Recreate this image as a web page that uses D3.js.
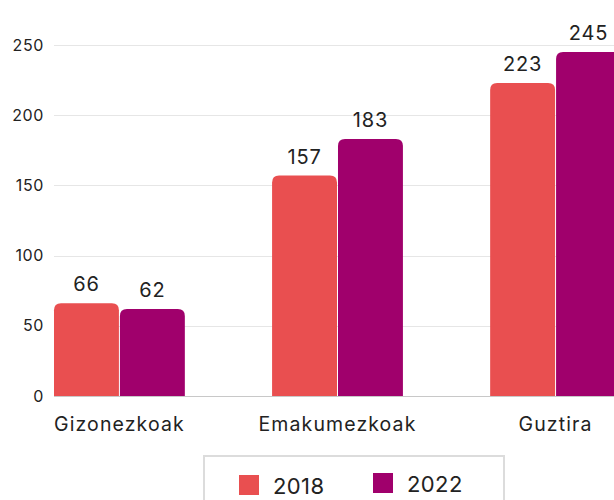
<!doctype html>
<html>
<head>
  <meta charset="utf-8">
  <title>Gizonezkoak / Emakumezkoak</title>
  <style>
    html, body { margin: 0; padding: 0; background: #fff; overflow: hidden; }
    svg { display: block; font-family: Inter, "Open Sans", sans-serif; }
  </style>
</head>
<body>
  <svg id="chart" width="614" height="500"></svg>

  <script src="https://d3js.org/d3.v7.min.js"></script>
  <script>
    // data
    var categories = ["Gizonezkoak", "Emakumezkoak", "Guztira"];
    var series = ["2018", "2022"];
    var values2018 = [66, 157, 223];
    var values2022 = [62, 183, 245];
    var yTicks = [0, 50, 100, 150, 200, 250];
    var colors = ["#e94f50", "#a0006c"];

    var rows = categories.map(function (c, i) {
      return { cat: c, vals: [values2018[i], values2022[i]] };
    });

    var svg = d3.select("#chart");

    var y = d3.scaleLinear().domain([0, 250]).range([396, 45]);
    var x0 = d3.scaleBand().domain(categories).range([54, 621])
        .paddingInner(0.4).paddingOuter(0);
    var x1 = d3.scaleBand().domain(series).range([0, x0.bandwidth()])
        .paddingInner(0.015);

    // gridlines
    svg.append("g")
      .selectAll("line")
      .data(yTicks)
      .join("line")
        .attr("x1", 54)
        .attr("x2", 614)
        .attr("y1", function (d) { return Math.round(y(d)) + 0.5; })
        .attr("y2", function (d) { return Math.round(y(d)) + 0.5; })
        .style("stroke", function (d) { return d === 0 ? "#c8c8c8" : "#e6e6e6"; })
        .style("stroke-width", 1);

    // y axis labels
    var yAxis = svg.append("g")
        .attr("transform", "translate(54,0)")
        .call(d3.axisLeft(y).tickValues(yTicks).tickSize(0).tickPadding(10));
    yAxis.select(".domain").remove();
    yAxis.selectAll("text")
        .style("font-family", "Inter, 'Open Sans', sans-serif")
        .style("font-size", "16px")
        .style("letter-spacing", "0.6px")
        .style("fill", "#222");

    // rounded-top bar path
    function barPath(x, yTop, w, h, r) {
      r = Math.min(r, h, w / 2);
      return "M" + x + "," + (yTop + h) +
        "V" + (yTop + r) +
        "Q" + x + "," + yTop + " " + (x + r) + "," + yTop +
        "H" + (x + w - r) +
        "Q" + (x + w) + "," + yTop + " " + (x + w) + "," + (yTop + r) +
        "V" + (yTop + h) + "Z";
    }

    var groups = svg.append("g")
      .selectAll("g")
      .data(rows)
      .join("g")
        .attr("transform", function (d) { return "translate(" + x0(d.cat) + ",0)"; });

    groups.selectAll("path")
      .data(function (d) { return d.vals.map(function (v, i) { return { s: series[i], v: v, i: i }; }); })
      .join("path")
        .attr("d", function (d) {
          return barPath(x1(d.s), y(d.v), x1.bandwidth(), y(0) - y(d.v), 7);
        })
        .style("fill", function (d) { return colors[d.i]; });

    groups.selectAll("text")
      .data(function (d) { return d.vals.map(function (v, i) { return { s: series[i], v: v }; }); })
      .join("text")
        .attr("x", function (d) { return x1(d.s) + x1.bandwidth() / 2; })
        .attr("y", function (d) { return y(d.v) - 12; })
        .attr("text-anchor", "middle")
        .style("font-size", "20px")
        .style("letter-spacing", "0.8px")
        .style("fill", "#222")
        .text(function (d) { return d.v; });

    // category labels
    svg.append("g")
      .selectAll("text")
      .data(categories)
      .join("text")
        .attr("x", function (d) { return x0(d) + x0.bandwidth() / 2; })
        .attr("y", 431)
        .attr("text-anchor", "middle")
        .style("font-size", "19.5px")
        .style("letter-spacing", "1.1px")
        .style("fill", "#222")
        .text(function (d) { return d; });

    // legend
    var legend = svg.append("g");
    legend.append("rect")
        .attr("x", 204)
        .attr("y", 456)
        .attr("width", 300)
        .attr("height", 60)
        .style("fill", "#fff")
        .style("stroke", "#dcdcdc")
        .style("stroke-width", 2);

    var legendX = [239, 373];
    var legendY = [475, 473];
    var items = legend.selectAll("g.item")
      .data(series)
      .join("g")
        .attr("class", "item")
        .attr("transform", function (d, i) { return "translate(" + legendX[i] + "," + legendY[i] + ")"; });
    items.append("rect")
        .attr("width", 20)
        .attr("height", 20)
        .style("fill", function (d, i) { return colors[i]; });
    items.append("text")
        .attr("x", 34)
        .attr("y", 19)
        .style("font-size", "22px")
        .style("letter-spacing", "0.4px")
        .style("fill", "#222")
        .text(function (d) { return d; });
  </script>
</body>
</html>
